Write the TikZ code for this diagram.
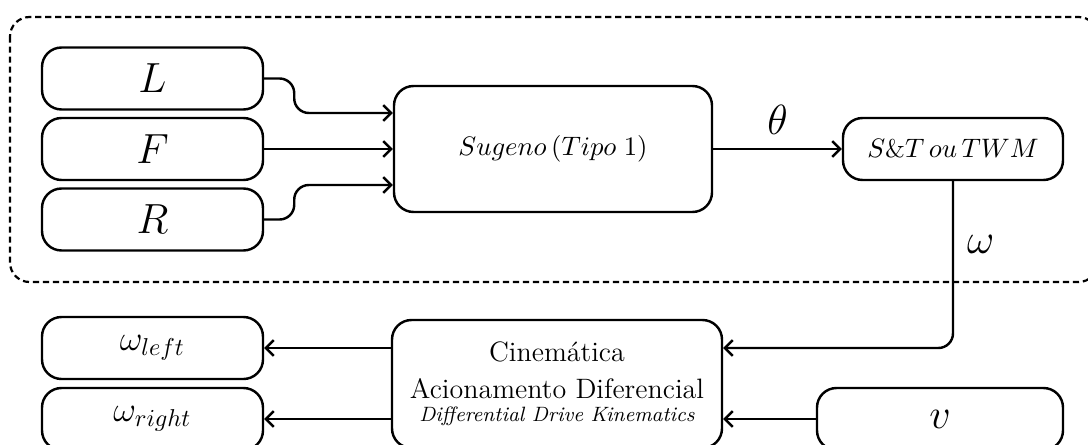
\documentclass[tikz,border=0pt]{standalone}
\usepackage{fontspec}
\usetikzlibrary{arrows.meta,calc}
\newcommand{\px}{0.41pt}
\begin{document}
\begin{tikzpicture}[x=\px,y=-\px, line width=1pt,
  box/.style={draw, rounded corners=8pt, minimum width=221*\px, minimum height=62*\px, inner sep=0pt},
  arr/.style={-{Straight Barb[length=3.2pt,width=6.4pt]}},
  link/.style={arr, rounded corners=6pt}]
\useasboundingbox (0,0) rectangle (1088,445);
% dashed frame
\draw[dash pattern=on 2.5pt off 1.6pt, line width=0.9pt, rounded corners=8pt] (10,17) rectangle (1098,282);
% inputs
\node[box, font=\LARGE] (L) at (152.5,78.5) {$L$};
\node[box, font=\LARGE] (F) at (152.5,149) {$F$};
\node[box, font=\LARGE] (R) at (152.5,219.5) {$R$};
\node[box, minimum width=318*\px, minimum height=126*\px, font=\fontsize{10.5}{12}\selectfont] (S) at (553,149) {$Sugeno\,(Tipo\;1)$};
\node[box, minimum width=220*\px, font=\fontsize{10.5}{12}\selectfont] (T) at (953,149) {$S\&T\,ou\,TWM$};
% bottom row
\node[box, font=\Large] (WL) at (152.5,348) {$\omega_{left}$};
\node[box, font=\Large] (WR) at (152.5,419) {$\omega_{right}$};
\node[box, minimum width=330*\px, minimum height=128*\px, align=center] (K) at (557,384)
  {{\fontsize{11.5}{15}\selectfont Cinemática}\\[3pt]{\fontsize{11.5}{15}\selectfont Acionamento Diferencial}\\[-2.5pt]{\itshape\fontsize{8.5}{10}\selectfont Differential Drive Kinematics}};
\node[box, minimum width=246*\px, font=\LARGE] (V) at (940,419) {$v$};
% connectors
\draw[link] (L.east) -- ++(30,0) |- ($(S.west)+(0,-36)$);
\draw[arr] (F.east) -- (S.west);
\draw[link] (R.east) -- ++(30,0) |- ($(S.west)+(0,36)$);
\draw[arr] (S.east) -- node[above=2pt, font=\LARGE] {$\theta$} (T.west);
\draw[link] (T.south) |- node[pos=0.19, right=2pt, font=\LARGE] {$\omega$} (K.east |- WL);
\draw[arr] (K.west |- WL) -- (WL.east);
\draw[arr] (K.west |- WR) -- (WR.east);
\draw[arr] (V.west) -- (K.east |- V);
\end{tikzpicture}
\end{document}
